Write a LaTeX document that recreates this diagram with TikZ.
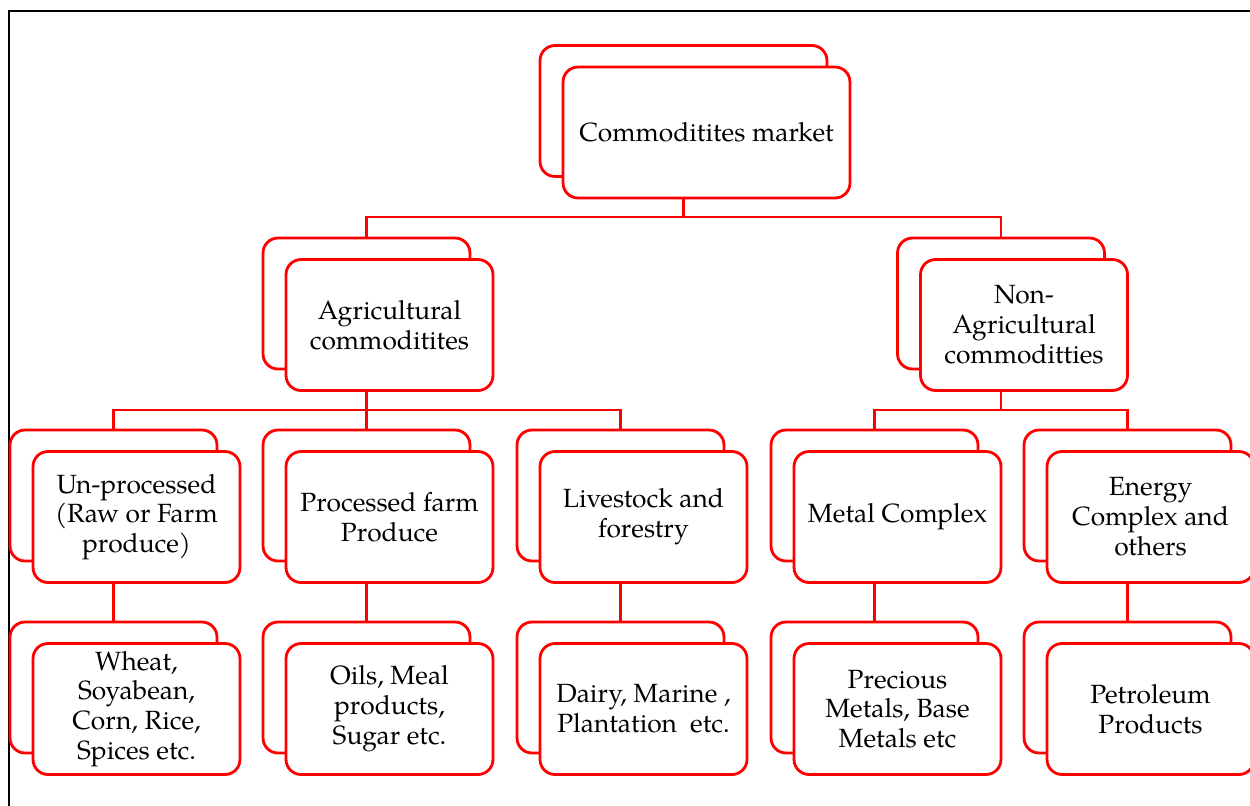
\documentclass[tikz,border=0pt]{standalone}
\usepackage{fontspec}
\setmainfont{TeX Gyre Pagella}
\begin{document}
\begin{tikzpicture}[x=0.02cm,y=-0.02cm,
  box/.style={draw=red, line width=1.6pt, rounded corners=0.3cm, fill=white,
    minimum width=4.14cm, minimum height=2.62cm, inner sep=0pt, outer sep=0pt},
  front/.style={box, align=center, font=\fontsize{15}{17}\selectfont},
  wide/.style={minimum width=5.74cm},
  link/.style={draw=red, line width=1.6pt}]
\useasboundingbox (0,0) rectangle (1250,805);
\clip (0,0) rectangle (1250,805);
\draw[line width=1.2pt] (9,11) rectangle (1280,840);

\coordinate (bus1) at (0,217);
\coordinate (bus2) at (0,410);

% level 1
\node[box,wide] (topB) at (683.5,111) {};
\node[front,wide] (top) at (706.5,132.5) {Commoditites market};

% level 2
\node[box] (agB) at (366.5,303.5) {};
\node[front] (ag) at (389.5,325) {Agricultural\\commoditites};
\node[box] (nagB) at (1001,303.5) {};
\node[front] (nag) at (1024,325) {Non-\\Agricultural\\commoditties};

% level 3
\node[box] (c1B) at (113.5,495.5) {};
\node[front] (c1) at (136.5,517) {Un-processed\\(Raw or Farm\\produce)};
\node[box] (c2B) at (366.5,495.5) {};
\node[front] (c2) at (389.5,517) {Processed farm\\Produce};
\node[box] (c3B) at (620.5,495.5) {};
\node[front] (c3) at (643.5,517) {Livestock and\\forestry};
\node[box] (c4B) at (874.5,495.5) {};
\node[front] (c4) at (897.5,517) {Metal Complex};
\node[box] (c5B) at (1127.5,495.5) {};
\node[front] (c5) at (1150.5,517) {Energy\\Complex and\\others};

% level 4
\node[box] (d1B) at (113.5,687.5) {};
\node[front] (d1) at (136.5,709) {Wheat,\\Soyabean,\\Corn, Rice,\\Spices etc.};
\node[box] (d2B) at (366.5,687.5) {};
\node[front] (d2) at (389.5,709) {Oils, Meal\\products,\\Sugar etc.};
\node[box] (d3B) at (620.5,687.5) {};
\node[front] (d3) at (643.5,709) {Dairy, Marine ,\\Plantation\ \ etc.};
\node[box] (d4B) at (874.5,687.5) {};
\node[front] (d4) at (897.5,709) {Precious\\Metals, Base\\Metals etc};
\node[box] (d5B) at (1127.5,687.5) {};
\node[front] (d5) at (1150.5,709) {Petroleum\\Products};

% connectors
\draw[link] (topB.center |- top.south) -- (topB.center |- bus1);
\draw[link] (agB.north) |- (nagB.north |- bus1) -- (nagB.north);

\draw[link] (agB.center |- ag.south) -- (c2B.north);
\draw[link] (c1B.north) |- (c3B.north |- bus2) -- (c3B.north);
\draw[link] (nagB.center |- nag.south) -- (nagB.center |- bus2);
\draw[link] (c4B.north) |- (c5B.north |- bus2) -- (c5B.north);

\draw[link] (c1B.center |- c1.south) -- (d1B.north);
\draw[link] (c2B.center |- c2.south) -- (d2B.north);
\draw[link] (c3B.center |- c3.south) -- (d3B.north);
\draw[link] (c4B.center |- c4.south) -- (d4B.north);
\draw[link] (c5B.center |- c5.south) -- (d5B.north);
\end{tikzpicture}
\end{document}
